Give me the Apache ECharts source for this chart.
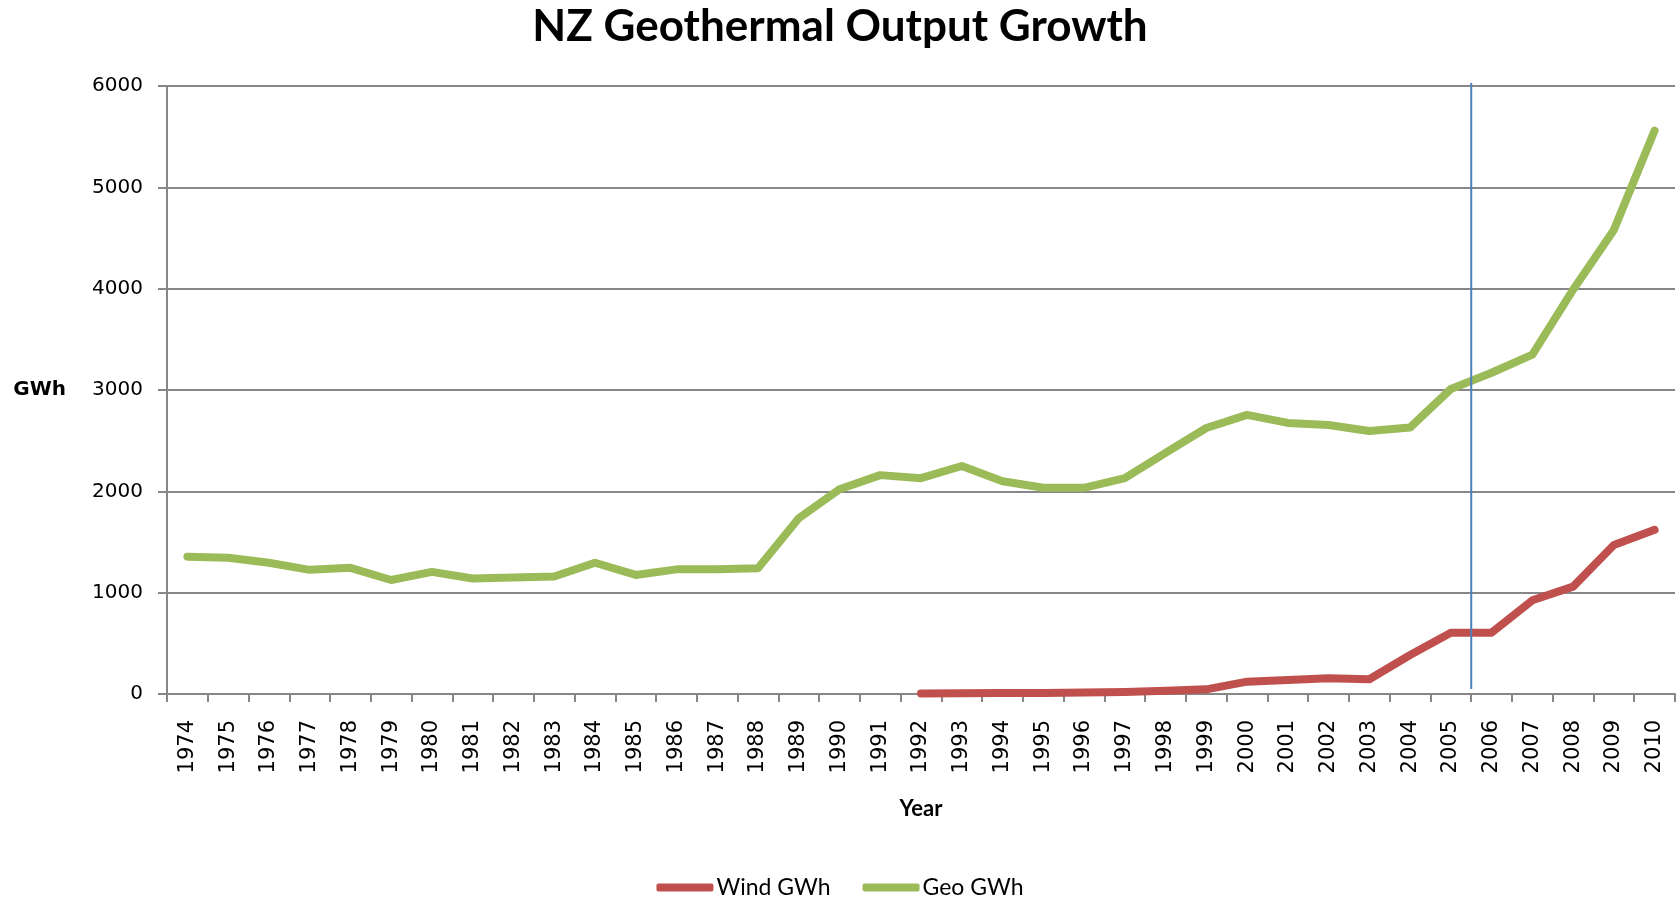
<!DOCTYPE html>
<html>
<head>
<meta charset="utf-8">
<script src="https://cdn.jsdelivr.net/npm/echarts@6/dist/echarts.min.js"></script>
<style>
  html, body { margin: 0; padding: 0; background: #ffffff; }
  #chart { width: 1680px; height: 898px; }
</style>
</head>
<body>
<div id="chart"></div>
<script>
// ---- data ----
const years = ['1974','1975','1976','1977','1978','1979','1980','1981','1982','1983',
  '1984','1985','1986','1987','1988','1989','1990','1991','1992','1993',
  '1994','1995','1996','1997','1998','1999','2000','2001','2002','2003',
  '2004','2005','2006','2007','2008','2009','2010'];
const windGWh = [null,null,null,null,null,null,null,null,null,null,
  null,null,null,null,null,null,null,null,5,8,
  10,10,15,20,33,46,122,138,155,145,
  385,605,605,925,1060,1470,1620];
const geoGWh = [1355,1345,1295,1225,1245,1125,1205,1140,1150,1160,
  1295,1175,1230,1230,1240,1735,2020,2160,2130,2250,
  2100,2035,2035,2130,2380,2625,2755,2675,2655,2595,
  2630,3010,3170,3350,3990,4580,5560];
const seriesNames = ['Wind GWh', 'Geo GWh'];
const yMin = 0, yMax = 6000, yStep = 1000;
// vertical divider sits on the boundary before this year
const dividerBeforeYear = '2006';
const dividerRange = [50, 6030];

const dividerIdx = years.indexOf(dividerBeforeYear);

const chart = echarts.init(document.getElementById('chart'), null, { renderer: 'canvas' });
const gray = '#878787';
chart.setOption({
  backgroundColor: '#ffffff',
  animation: false,
  title: {
    text: 'NZ Geothermal Output Growth',
    left: 'center',
    top: 0,
    textStyle: { fontFamily: 'Lato', fontWeight: 'bold', fontSize: 44, color: '#000' }
  },
  legend: {
    data: seriesNames,
    left: 'center',
    top: 871,
    icon: 'roundRect',
    itemWidth: 57,
    itemHeight: 8,
    itemGap: 32,
    textStyle: { fontFamily: 'Lato', fontSize: 23, color: '#000', padding: [0, 0, 0, -2] }
  },
  grid: { left: 167, right: 5, top: 86, bottom: 204, containLabel: false },
  xAxis: [{
    type: 'category',
    data: years,
    boundaryGap: true,
    name: 'Year',
    nameLocation: 'middle',
    nameGap: 104,
    nameTextStyle: { fontFamily: 'Lato', fontWeight: 'bold', fontSize: 22, color: '#000' },
    axisLine: { show: true, lineStyle: { color: gray, width: 2 } },
    axisTick: { show: true, length: 8, inside: false, alignWithLabel: false, lineStyle: { color: gray, width: 2 } },
    axisLabel: { rotate: 90, margin: 26, interval: 0, fontFamily: 'DejaVu Sans', fontSize: 21, color: '#000' },
    splitLine: { show: false }
  }, {
    type: 'value',
    min: 0,
    max: years.length,
    show: false
  }],
  yAxis: {
    type: 'value',
    min: yMin,
    max: yMax,
    interval: yStep,
    name: 'GWh',
    nameLocation: 'middle',
    nameRotate: 0,
    nameGap: 101,
    nameTextStyle: { fontFamily: 'DejaVu Sans', fontWeight: 'bold', fontSize: 20, color: '#000' },
    axisLine: { show: true, lineStyle: { color: gray, width: 2 } },
    axisTick: { show: true, length: 9, inside: false, lineStyle: { color: gray, width: 2 } },
    axisLabel: { margin: 24, fontFamily: 'DejaVu Sans', fontSize: 20, color: '#000', formatter: v => String(v) },
    splitLine: { show: true, lineStyle: { color: gray, width: 2 } }
  },
  series: [{
    name: seriesNames[0],
    type: 'line',
    data: windGWh,
    symbol: 'none',
    connectNulls: false,
    itemStyle: { color: '#C0504D' },
    lineStyle: { color: '#C0504D', width: 8, cap: 'round', join: 'round' },
    z: 3
  }, {
    name: seriesNames[1],
    type: 'line',
    data: geoGWh,
    symbol: 'none',
    itemStyle: { color: '#9BBB59' },
    lineStyle: { color: '#9BBB59', width: 8, cap: 'round', join: 'round' },
    z: 3
  }, {
    name: 'divider',
    type: 'line',
    xAxisIndex: 1,
    data: [[dividerIdx, dividerRange[0]], [dividerIdx, dividerRange[1]]],
    symbol: 'none',
    clip: false,
    silent: true,
    lineStyle: { color: '#4F81BD', width: 2 },
    z: 4
  }]
});
</script>
</body>
</html>
